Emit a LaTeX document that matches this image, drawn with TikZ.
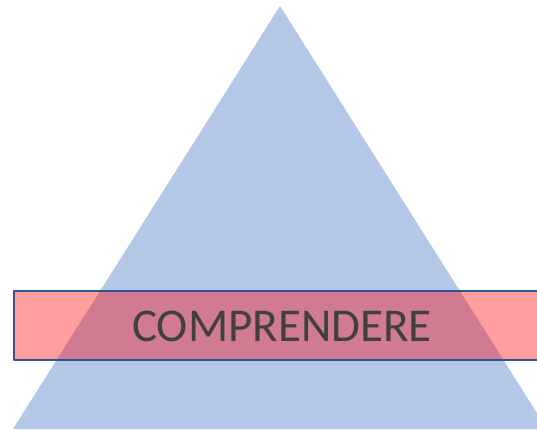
\documentclass[tikz,border=0pt]{standalone}
\usepackage{fontspec}
\setmainfont{Carlito}
\definecolor{trifill}{RGB}{180,199,231}
\definecolor{bandline}{RGB}{47,85,151}
\definecolor{textgray}{RGB}{64,64,64}
\begin{document}
\begin{tikzpicture}[x=1pt,y=1pt, line join=round]
				\useasboundingbox (0,0) rectangle (537,429);
				\clip (0,0) rectangle (537,429);
				\coordinate (A) at (280,423);
				\coordinate (B) at (13,0);
				\coordinate (C) at (547,0);
				\coordinate (P) at (14,138);
				\coordinate (Q) at (548,69);
				\fill[trifill] (A)--(B)--(C)--cycle;
				\fill[red, fill opacity=0.38] (P) rectangle (Q);
				\draw[bandline, line width=2pt] (P) rectangle (Q);
				\node[text=textgray, font=\fontsize{47}{50}\selectfont] (T) at (282,103) {COMPRENDERE};
			\end{tikzpicture}
\end{document}
